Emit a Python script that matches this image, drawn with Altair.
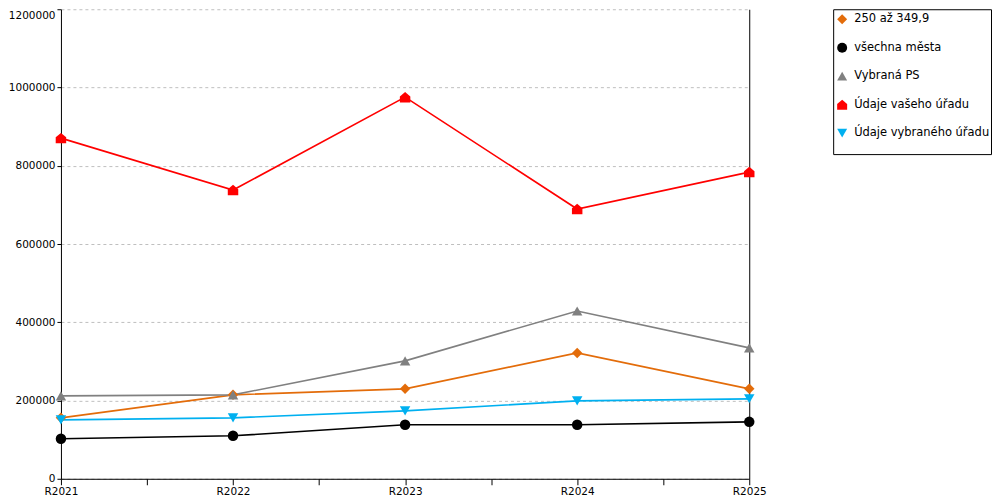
import altair as alt
import pandas as pd

categories = ["R2021", "R2022", "R2023", "R2024", "R2025"]
series_names = ["250 až 349,9", "všechna města", "Vybraná PS", "Údaje vašeho úřadu", "Údaje vybraného úřadu"]
series_colors = ["#E36C0A", "#000000", "#808080", "#FF0000", "#00B0F0"]
series_shapes = ["diamond", "circle", "triangle-up", "M-1,1L-1,-0.15L0,-1L1,-0.15L1,1Z", "triangle-down"]

v_250 = [155700, 214500, 229800, 321700, 229800]
v_mesta = [102100, 109800, 137900, 137900, 145500]
v_ps = [211900, 214500, 301300, 428900, 334500]
v_vas = [870600, 737900, 975300, 689400, 783800]
v_vybr = [150600, 155700, 173600, 199100, 204300]

all_values = [v_250, v_mesta, v_ps, v_vas, v_vybr]
rows = []
for name, vals in zip(series_names, all_values):
    for i, (cat, v) in enumerate(zip(categories, vals)):
        rows.append({"series": name, "idx": i, "cat": cat, "value": v})
df = pd.DataFrame(rows)
leg_df = pd.DataFrame({"series": series_names})

FONT = "DejaVu Sans"
last = len(categories) - 1
label_expr = " : ".join(
    [f"datum.value == {i} ? '{c}'" for i, c in enumerate(categories)]
) + " : ''"
tick_vals = [i * 0.5 for i in range(2 * last + 1)]
y_ticks = list(range(0, 1200001, 200000))

x_enc = alt.X(
    "idx:Q",
    scale=alt.Scale(domain=[0, last], nice=False, zero=False),
    axis=alt.Axis(
        values=tick_vals, labelExpr=label_expr, title=None,
        grid=True, gridColor="black", gridWidth=1,
        gridOpacity=alt.expr(f"datum.value == {last} ? 1 : 0"),
        domainColor="black", tickColor="black", tickSize=6, labelFont=FONT,
        labelFontSize=10.5, labelColor="black", labelPadding=2, labelFlush=False,
        labelAngle=0,
    ),
)
y_enc = alt.Y(
    "value:Q", scale=alt.Scale(domain=[0, 1200000], nice=False),
    axis=alt.Axis(
        values=y_ticks, format="d", title=None,
        domainColor="black", tickColor="black", tickSize=4, labelFont=FONT,
        labelFontSize=10.5, labelColor="black", labelPadding=2,
        labelOffset=alt.expr(f"datum.value == {max(y_ticks)} ? 6 : 0"),
        gridColor="#BFBFBF", gridDash=[3, 3], gridWidth=1,
    ),
)
color_scale = alt.Scale(domain=series_names, range=series_colors)
shape_scale = alt.Scale(domain=series_names, range=series_shapes)

lines = alt.Chart(df).mark_line(strokeWidth=1.6).encode(
    x=x_enc, y=y_enc,
    stroke=alt.Stroke("series:N", scale=color_scale, legend=None),
    order="idx:Q",
)
points = alt.Chart(df).mark_point(filled=True, opacity=1, size=110).encode(
    x=x_enc, y=y_enc,
    color=alt.Color("series:N", scale=color_scale, legend=None),
    shape=alt.Shape("series:N", scale=shape_scale, legend=None),
)
main = alt.layer(lines, points).properties(width=689, height=470)

# legend box built from the series list
leg_y = alt.Y("series:N", sort=series_names, axis=None,
              scale=alt.Scale(domain=series_names, range=[10, 124], padding=0))
leg_points = alt.Chart(leg_df).mark_point(filled=True, opacity=1, size=100).encode(
    x=alt.value(9), y=leg_y,
    color=alt.Color("series:N", scale=color_scale, legend=None),
    shape=alt.Shape("series:N", scale=shape_scale, legend=None),
)
leg_text = alt.Chart(leg_df).mark_text(
    align="left", baseline="middle", font=FONT, fontSize=11.5, color="black"
).encode(x=alt.value(21), y=leg_y, text="series:N")
legend_box = alt.layer(leg_points, leg_text).properties(
    width=158, height=145,
    view=alt.ViewBackground(stroke="black", strokeWidth=1, fill="white"),
)

chart = alt.hconcat(main, legend_box, spacing=84, bounds="flush").properties(
    padding={"left": 0, "top": 0, "right": 0, "bottom": 0},
).configure_view(stroke=None)

chart.save("out.html", embed_options={"renderer": "svg", "actions": False})
